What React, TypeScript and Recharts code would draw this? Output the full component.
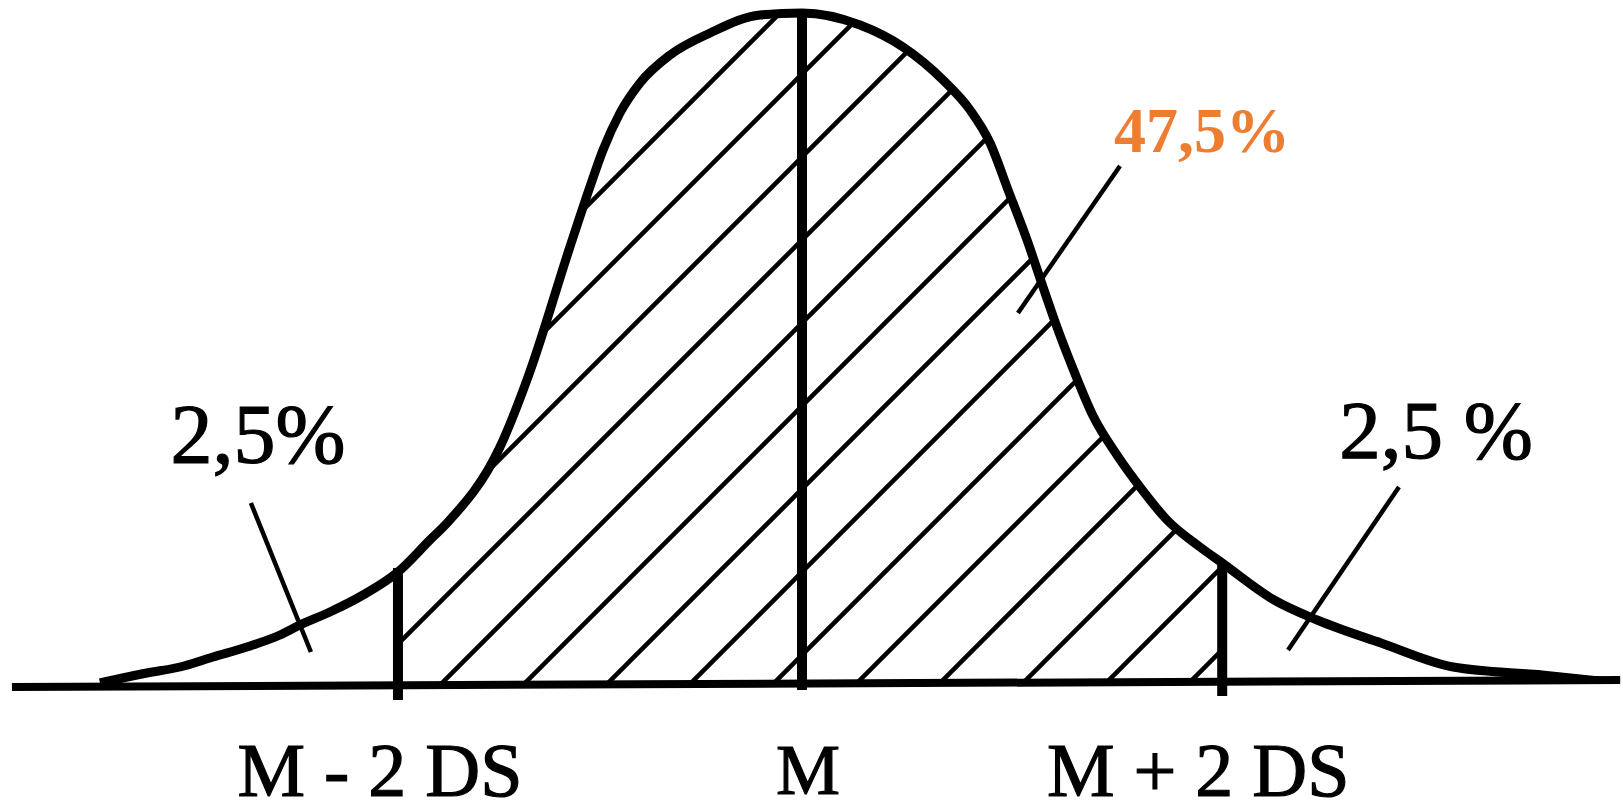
import {
  ComposedChart,
  Area,
  Line,
  XAxis,
  YAxis,
  ReferenceLine,
  ReferenceDot,
} from "recharts";

// x in standard deviations from the mean, h = height of the curve above the baseline
const CURVE_X = [
  -3.475, -3.243, -3.079, -2.916, -2.748, -2.584, -2.485, -2.337, -2.173, -2.0, -1.842, -1.757,
  -1.495, -1.351, -1.149, -1.05, -0.985, -0.901, -0.802, -0.653, -0.455, -0.208, 0, 0.287,
  0.5, 0.698, 0.832, 0.931, 1.02, 1.114, 1.193, 1.262, 1.342, 1.441, 1.559, 1.673, 1.807,
  1.97, 2.08, 2.337, 2.55, 2.866, 3.223, 3.663, 3.95,
];
const CURVE_H = [
  1, 11, 17, 27, 37, 49, 59, 72, 89, 112, 144, 161, 237, 310, 437, 497, 534, 571, 601, 629,
  651, 669, 671, 659, 637, 604, 574, 541, 494, 444, 397, 357, 315, 268, 229, 197, 164, 137,
  121, 84, 64, 41, 17, 9, 3,
];

// cut points drawn on the picture: M - 2 DS, M, M + 2 DS
const MARK_X = [-2, 0, 2.08];
const MARK_LABELS = ["M - 2 DS", "M", "M + 2 DS"];
const MARK_TOP = [116, 671, 121];
const MARK_BOTTOM = [-16, -6, -12];

// area notes and their pointer strokes
const NOTE_TEXT = ["2,5%", "2,5 %", "47,5%"];
const NOTE_X = [-2.693, 3.139, 1.98];
const NOTE_H = [221, 226, 532];
const POINTER_FROM = [
  [-2.728, 181],
  [2.955, 197],
  [1.574, 518],
];
const POINTER_TO = [
  [-2.431, 32],
  [2.406, 34],
  [1.069, 371],
];

const BASELINE = [
  [-3.911, -3],
  [4.05, 4],
];

const HATCH_FROM = -2;
const HATCH_TO = 2.08;

const data = CURVE_X.map((x, i) => ({
  x,
  curve: CURVE_H[i],
  inner: x >= HATCH_FROM && x <= HATCH_TO ? CURVE_H[i] : null,
}));

const SERIF = '"Liberation Serif", "Times New Roman", serif';

const NOTE_STYLE = [
  { size: 84, color: "#000000", weight: 400, stroke: 1.2 },
  { size: 83, color: "#000000", weight: 400, stroke: 1.2 },
  { size: 64, color: "#ED7D31", weight: 700, stroke: 0 },
];

// tweaks per bottom label: horizontal shift from the line, baseline below the axis, size
const TICK_SHIFT: Record<string, [number, number, number]> = {
  "M - 2 DS": [-18, 112, 76],
  M: [6, 110, 72],
  "M + 2 DS": [-24, 112, 76],
};

function MarkTick(props: any) {
  const { x, y, payload } = props;
  const idx = MARK_X.indexOf(payload.value);
  const label = MARK_LABELS[idx] ?? "";
  const [dx, dy, size] = TICK_SHIFT[label] ?? [0, 0, 76];
  return (
    <text
      x={x + dx}
      y={y + dy}
      textAnchor="middle"
      fontFamily={SERIF}
      fontSize={size}
      fill="#000"
      stroke="#000"
      strokeWidth={1.2}
    >
      {label}
    </text>
  );
}

function noteLabel(i: number) {
  return (p: any) => {
    const vb = p.viewBox ?? {};
    const s = NOTE_STYLE[i];
    return (
      <text
        x={vb.x ?? vb.cx}
        y={vb.y ?? vb.cy}
        textAnchor="middle"
        fontFamily={SERIF}
        fontSize={s.size}
        fontWeight={s.weight}
        fill={s.color}
        stroke={s.stroke ? s.color : "none"}
        strokeWidth={s.stroke}
      >
        {NOTE_TEXT[i]}
      </text>
    );
  };
}

export default function App() {
  return (
    <div style={{ position: "absolute", left: 0, top: 0, background: "#fff" }}>
      <ComposedChart
        width={1623}
        height={812}
        data={data}
        margin={{ top: 0, right: 0, left: 0, bottom: 0 }}
      >
        <defs>
          <pattern
            id="hatch"
            patternUnits="userSpaceOnUse"
            x={46}
            y={0}
            width={83}
            height={83}
          >
            <path
              d="M-10,10 L10,-10 M0,83 L83,0 M73,93 L93,73"
              stroke="#000"
              strokeWidth={4.5}
            />
          </pattern>
        </defs>
        <XAxis
          type="number"
          dataKey="x"
          domain={[-3.97, 4.064]}
          allowDataOverflow
          ticks={MARK_X}
          interval={0}
          height={128}
          axisLine={false}
          tickLine={false}
          tickSize={0}
          tickMargin={0}
          tick={<MarkTick />}
        />
        <YAxis type="number" domain={[0, 684]} allowDataOverflow hide />

        <Area
          type="monotone"
          dataKey="inner"
          stroke="none"
          fill="url(#hatch)"
          fillOpacity={1}
          connectNulls={false}
          isAnimationActive={false}
        />

        {/* baseline */}
        <ReferenceLine
          segment={[
            { x: BASELINE[0][0], y: BASELINE[0][1] },
            { x: BASELINE[1][0], y: BASELINE[1][1] },
          ]}
          stroke="#000"
          strokeWidth={8}
          ifOverflow="visible"
        />

        {MARK_X.map((mx, i) => (
          <ReferenceLine
            key={`mark-${i}`}
            segment={[
              { x: mx, y: MARK_BOTTOM[i] },
              { x: mx, y: MARK_TOP[i] },
            ]}
            stroke="#000"
            strokeWidth={10}
            ifOverflow="visible"
          />
        ))}

        {POINTER_FROM.map((from, i) => (
          <ReferenceLine
            key={`ptr-${i}`}
            segment={[
              { x: from[0], y: from[1] },
              { x: POINTER_TO[i][0], y: POINTER_TO[i][1] },
            ]}
            stroke="#000"
            strokeWidth={4.5}
            ifOverflow="visible"
          />
        ))}

        <Line
          type="monotone"
          dataKey="curve"
          stroke="#000"
          strokeWidth={9}
          dot={false}
          activeDot={false}
          isAnimationActive={false}
        />

        {NOTE_TEXT.map((t, i) => (
          <ReferenceDot
            key={`note-${i}`}
            x={NOTE_X[i]}
            y={NOTE_H[i]}
            r={0}
            fill="none"
            stroke="none"
            ifOverflow="visible"
            label={noteLabel(i)}
          />
        ))}
      </ComposedChart>
    </div>
  );
}
